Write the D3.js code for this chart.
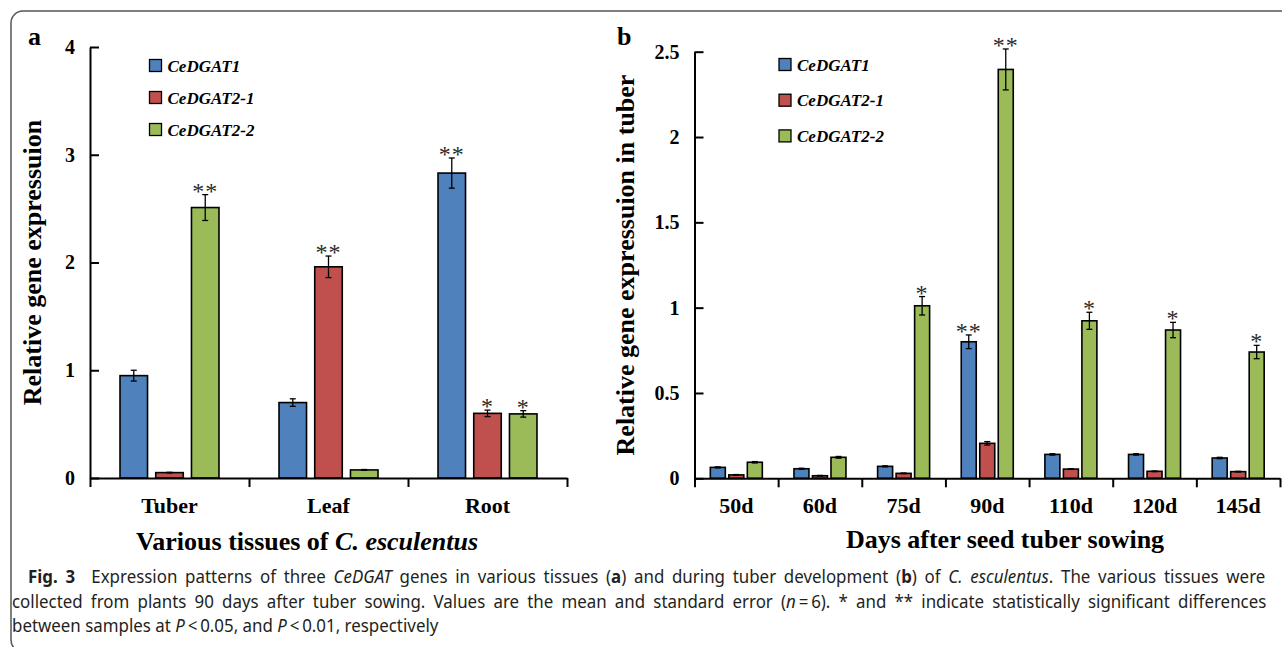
<!DOCTYPE html>
<html>
<head>
<meta charset="utf-8">
<script src="https://cdn.jsdelivr.net/npm/d3@7"></script>
<style>
  body { margin: 0; background: #fff; }
  svg { display: block; }
  .axis path, .axis line { stroke: #000; stroke-width: 2; }
  .axis text { font-family: "Liberation Serif", serif; font-weight: bold; font-size: 20px; fill: #000; }
</style>
</head>
<body>
<div class="chart"></div>
<script>
var genes = ["CeDGAT1", "CeDGAT2-1", "CeDGAT2-2"];
var colors = ["#4f81bd", "#c0504d", "#9bbb59"];

// panel a: tissues
var tissues = ["Tuber", "Leaf", "Root"];
var dgat1Tissue = [0.95, 0.70, 2.83];
var dgat21Tissue = [0.05, 1.96, 0.60];
var dgat22Tissue = [2.51, 0.075, 0.595];
var dgat1TissueErr = [0.05, 0.035, 0.14];
var dgat21TissueErr = [0.003, 0.10, 0.03];
var dgat22TissueErr = [0.12, 0.004, 0.03];
var dgat1TissueSig = ["", "", "**"];
var dgat21TissueSig = ["", "**", "*"];
var dgat22TissueSig = ["**", "", "*"];
var tissueTicks = [0, 1, 2, 3, 4];

// panel b: days after sowing
var days = ["50d", "60d", "75d", "90d", "110d", "120d", "145d"];
var dgat1Day = [0.064, 0.056, 0.070, 0.80, 0.140, 0.140, 0.119];
var dgat21Day = [0.020, 0.015, 0.029, 0.205, 0.054, 0.041, 0.039];
var dgat22Day = [0.094, 0.123, 1.011, 2.396, 0.923, 0.869, 0.740];
var dgat1DayErr = [0.003, 0.003, 0.003, 0.04, 0.004, 0.004, 0.004];
var dgat21DayErr = [0.002, 0.002, 0.002, 0.01, 0.002, 0.002, 0.002];
var dgat22DayErr = [0.004, 0.005, 0.054, 0.12, 0.05, 0.045, 0.039];
var dgat1DaySig = ["", "", "", "**", "", "", ""];
var dgat21DaySig = ["", "", "", "", "", "", ""];
var dgat22DaySig = ["", "", "*", "**", "*", "*", "*"];
var dayTicks = [0, 0.5, 1, 1.5, 2, 2.5];

function panel(svg, cfg) {
    var g = svg.append("g");

    var x0 = d3.scaleBand()
                .domain(cfg.cats)
                .range([cfg.left, cfg.right]);

    var x1 = d3.scaleBand()
                .domain(genes)
                .range([0, x0.bandwidth()])
                .paddingInner(cfg.pi)
                .paddingOuter(cfg.po);

    var y = d3.scaleLinear()
                .domain([0, cfg.max])
                .range([cfg.bottom, cfg.top]);

    var xi = d3.scaleLinear()
                .domain([0, cfg.cats.length])
                .range([cfg.left, cfg.right]);

    var rows = [];
    cfg.series.forEach(function (s, k) {
        cfg.cats.forEach(function (c, i) {
            rows.push({cat: c, gene: genes[k], color: colors[k],
                       v: s.mean[i], e: s.err[i], sig: s.sig[i]});
        });
    });

    // bars
    g.selectAll("rect.bar").data(rows).enter().append("rect")
            .attr("class", "bar")
            .attr("x", function (d) { return x0(d.cat) + x1(d.gene); })
            .attr("y", function (d) { return y(d.v); })
            .attr("width", x1.bandwidth())
            .attr("height", function (d) { return y(0) - y(d.v); })
            .attr("fill", function (d) { return d.color; })
            .attr("stroke", "#000")
            .attr("stroke-width", 1.6);

    // error bars
    var eb = g.selectAll("g.err").data(rows).enter().append("g")
            .attr("class", "err")
            .attr("transform", function (d) {
                return "translate(" + (x0(d.cat) + x1(d.gene) + x1.bandwidth() / 2) + ",0)";
            });
    eb.append("line")
            .attr("y1", function (d) { return y(d.v + d.e); })
            .attr("y2", function (d) { return y(Math.max(0, d.v - d.e)); });
    eb.append("line")
            .attr("x1", -3).attr("x2", 3)
            .attr("y1", function (d) { return y(d.v + d.e); })
            .attr("y2", function (d) { return y(d.v + d.e); });
    eb.append("line")
            .attr("x1", -3).attr("x2", 3)
            .attr("y1", function (d) { return y(Math.max(0, d.v - d.e)); })
            .attr("y2", function (d) { return y(Math.max(0, d.v - d.e)); });
    eb.selectAll("line").attr("stroke", "#000").attr("stroke-width", 1.3);

    // significance marks
    eb.append("text")
            .attr("y", function (d) { return y(d.v + d.e) + 4; })
            .attr("text-anchor", "middle")
            .style("font-family", "'Liberation Serif', serif")
            .style("font-size", "24px")
            .style("letter-spacing", "1px")
            .style("fill", "#2a2a2a")
            .text(function (d) { return d.sig; });

    // axes
    g.append("g")
            .attr("class", "axis")
            .attr("transform", "translate(0," + cfg.bottom + ")")
            .call(d3.axisBottom(xi)
                .tickValues(d3.range(cfg.cats.length + 1))
                .tickFormat("")
                .tickSizeInner(9)
                .tickSizeOuter(0));

    g.append("g")
            .attr("class", "axis")
            .attr("transform", "translate(" + cfg.left + ",0)")
            .call(d3.axisLeft(y)
                .tickValues(cfg.ticks)
                .tickFormat(d3.format(""))
                .tickSizeInner(-9)
                .tickSizeOuter(0)
                .tickPadding(15));

    g.selectAll("text.cat").data(cfg.cats).enter().append("text")
            .attr("class", "cat")
            .attr("x", function (d) { return x0(d) + x0.bandwidth() / 2; })
            .attr("y", cfg.bottom + 35)
            .attr("text-anchor", "middle")
            .style("font-family", "'Liberation Serif', serif")
            .style("font-weight", "bold")
            .style("font-size", "22px")
            .text(function (d) { return d; });

    // legend
    var lg = g.selectAll("g.leg").data(genes).enter().append("g")
            .attr("class", "leg")
            .attr("transform", function (d, i) {
                return "translate(" + cfg.legX + "," + (cfg.legY + i * cfg.legStep) + ")";
            });
    lg.append("rect")
            .attr("width", 12).attr("height", 12)
            .attr("fill", function (d, i) { return colors[i]; })
            .attr("stroke", "#000")
            .attr("stroke-width", 1.3);
    lg.append("text")
            .attr("x", 18).attr("y", 12)
            .style("font-family", "'Liberation Serif', serif")
            .style("font-weight", "bold")
            .style("font-style", "italic")
            .style("font-size", "17px")
            .text(function (d) { return d; });

    // panel letter
    g.append("text")
            .attr("x", cfg.letterX).attr("y", 45)
            .style("font-family", "'Liberation Serif', serif")
            .style("font-weight", "bold")
            .style("font-size", "26px")
            .text(cfg.letter);

    // y title
    g.append("text")
            .attr("transform", "translate(" + cfg.yTitleX + "," + ((cfg.top + cfg.bottom) / 2) + ") rotate(-90)")
            .attr("text-anchor", "middle")
            .style("font-family", "'Liberation Serif', serif")
            .style("font-weight", "bold")
            .style("font-size", "26px")
            .text(cfg.yTitle);

    // x title
    var xt = g.append("text")
            .attr("x", cfg.xTitleX).attr("y", cfg.xTitleY)
            .attr("text-anchor", "middle")
            .style("font-family", "'Liberation Serif', serif")
            .style("font-weight", "bold")
            .style("font-size", "26px");
    cfg.xTitle.forEach(function (p) {
        xt.append("tspan").style("font-style", p[1] ? "italic" : "normal").text(p[0]);
    });
}

function chart() {
    var svg = d3.select(".chart").append("svg")
            .attr("width", 1282)
            .attr("height", 647);

    // frame round figure and caption
    svg.append("path")
            .attr("d", "M1290,11 H23 A12,12 0 0 0 11,23 V640 A12,12 0 0 0 23,652")
            .attr("fill", "none")
            .attr("stroke", "#555")
            .attr("stroke-width", 1.5);

    panel(svg, {
        cats: tissues, max: 4, ticks: tissueTicks,
        left: 90, right: 567, top: 47, bottom: 478,
        pi: 0.23, po: 0.84,
        series: [
            {mean: dgat1Tissue, err: dgat1TissueErr, sig: dgat1TissueSig},
            {mean: dgat21Tissue, err: dgat21TissueErr, sig: dgat21TissueSig},
            {mean: dgat22Tissue, err: dgat22TissueErr, sig: dgat22TissueSig}
        ],
        legX: 149.5, legY: 59.5, legStep: 32,
        letter: "a", letterX: 28,
        yTitle: "Relative gene expressuion", yTitleX: 41,
        xTitle: [["Various tissues of ", false], ["C. esculentus", true]],
        xTitleX: 307, xTitleY: 550
    });

    panel(svg, {
        cats: days, max: 2.5, ticks: dayTicks,
        left: 694.5, right: 1280, top: 51.7, bottom: 478.3,
        pi: 0.19, po: 0.855,
        series: [
            {mean: dgat1Day, err: dgat1DayErr, sig: dgat1DaySig},
            {mean: dgat21Day, err: dgat21DayErr, sig: dgat21DaySig},
            {mean: dgat22Day, err: dgat22DayErr, sig: dgat22DaySig}
        ],
        legX: 779, legY: 58.5, legStep: 35.7,
        letter: "b", letterX: 617,
        yTitle: "Relative gene expressuion in tuber", yTitleX: 634,
        xTitle: [["Days after seed tuber sowing", false]],
        xTitleX: 1005, xTitleY: 548
    });

    // caption: same glyph squeeze on every line, first two lines justified
    var cap = [
        {x: 28, y: 583, len: 1237, parts: [
            ["Fig. 3", "b"], ["\u2002 Expression patterns of three ", ""], ["CeDGAT", "i"],
            [" genes in various tissues (", ""], ["a", "b"], [") and during tuber development (", ""],
            ["b", "b"], [") of ", ""], ["C. esculentus", "i"], [". The various tissues were", ""]]},
        {x: 12, y: 608, len: 1254, parts: [
            ["collected from plants 90 days after tuber sowing. Values are the mean and standard error (", ""],
            ["n", "i"], ["\u2009=\u20096). * and ** indicate statistically significant differences", ""]]},
        {x: 12, y: 632, len: 0, parts: [
            ["between samples at ", ""], ["P", "i"], ["\u2009<\u20090.05, and ", ""], ["P", "i"],
            ["\u2009<\u20090.01, respectively", ""]]}
    ];
    var squeeze = 0.96;
    cap.forEach(function (line) {
        var t = svg.append("text")
                .attr("x", 0).attr("y", 0)
                .style("font-family", "'Noto Sans', sans-serif")
                .style("font-size", "17.6px")
                .style("fill", "#231f20");
        line.parts.forEach(function (p) {
            t.append("tspan")
                    .style("font-weight", p[1] == "b" ? "bold" : "normal")
                    .style("font-style", p[1] == "i" ? "italic" : "normal")
                    .text(p[0]);
        });
        if (line.len) {
            var w = t.node().getComputedTextLength();
            var spaces = line.parts.map(function (p) { return p[0]; }).join("").split(" ").length - 1;
            t.style("word-spacing", Math.max(0, (line.len / squeeze - w) / spaces) + "px");
        }
        t.attr("transform", "translate(" + line.x + "," + line.y + ") scale(" + squeeze + ",1)");
    });
}

chart();
</script>
</body>
</html>
